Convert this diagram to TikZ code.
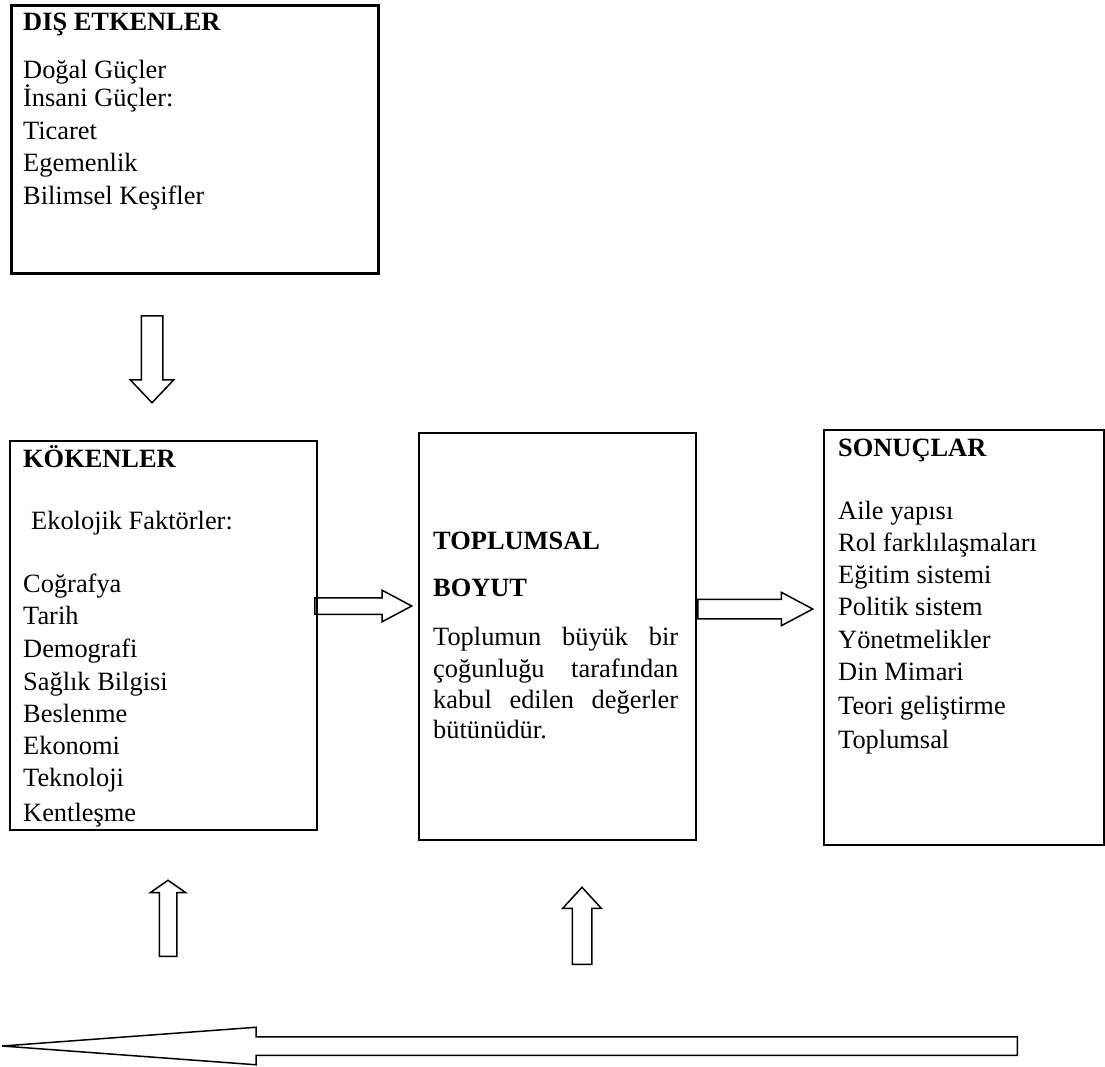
\documentclass[tikz,border=0pt]{standalone}
\usepackage{fontspec}
\setmainfont{Liberation Serif}
\usetikzlibrary{shapes.arrows}

\begin{document}
\begin{tikzpicture} [x=1pt, y=-1pt,
	box/.style={draw, line width=2pt, inner sep=0pt, anchor=north west},
	item/.style={anchor=base west, inner sep=0pt, font=\fontsize{26.4}{32}\selectfont},
	head/.style={item, font=\fontsize{26.4}{32}\selectfont\bfseries},
	fat/.style={single arrow, draw, line width=1.5pt, inner xsep=0pt, minimum width=0pt, anchor=tail}]
	%    page size of the reference
	\useasboundingbox (0,0) rectangle (1105,1066);

	% the four boxes
	\node[box, line width=3pt, minimum width=367pt, minimum height=268pt] (dis) at (9.5,4) {};
	\node[box, minimum width=307pt, minimum height=389pt] (koken) at (9,440) {};
	\node[box, minimum width=277pt, minimum height=407pt] (boyut) at (418,432) {};
	\node[box, minimum width=280pt, minimum height=415pt] (sonuc) at (823,429) {};

	% texts
	\node[head] (dishead) at (23,30) {DIŞ ETKENLER};
	\foreach \txt/\yy [count=\i] in {Doğal Güçler/78, İnsani Güçler:/106, Ticaret/139, Egemenlik/171, Bilimsel Keşifler/204}
		\node[item] (dis\i) at (23,\yy) {\txt};

	\node[head] (kokhead) at (23,467) {KÖKENLER};
	\node[item] (ekoloji) at (31,529) {Ekolojik Faktörler:};
	\foreach \txt/\yy [count=\i] in {Coğrafya/592, Tarih/624, Demografi/657, Sağlık Bilgisi/690, Beslenme/722, Ekonomi/754, Teknoloji/786, Kentleşme/821}
		\node[item] (kok\i) at (23,\yy) {\txt};

	\node[head] (boyhead1) at (433,549) {TOPLUMSAL};
	\node[head] (boyhead2) at (433,596) {BOYUT};
	\foreach \txt/\yy [count=\i] in {Toplumun büyük bir/645, çoğunluğu tarafından/677, kabul edilen değerler/708}
		\node[item] (boy\i) at (433,\yy) {\makebox[245pt][s]{\txt}};
	\node[item] (boy4) at (433,738) {bütünüdür.};

	\node[head] (sonhead) at (838,456) {SONUÇLAR};
	\foreach \txt/\yy [count=\i] in {Aile yapısı/519, Rol farklılaşmaları/551, Eğitim sistemi/583, Politik sistem/615, Yönetmelikler/648, Din Mimari/680, Teori geliştirme/714, Toplumsal/748}
		\node[item] (son\i) at (838,\yy) {\txt};

	% block arrows
	\node[fat, rotate=-90, minimum height=87pt, inner ysep=10pt, single arrow head extend=11pt, single arrow tip angle=87] (down) at (152,315) {};
	\node[fat, minimum height=97pt, inner ysep=7.5pt, single arrow head extend=7.5pt, single arrow tip angle=56] (right1) at (314,606) {};
	\node[fat, minimum height=115pt, inner ysep=9pt, single arrow head extend=7pt, single arrow tip angle=56] (right2) at (697,609) {};
	\node[fat, rotate=90, minimum height=76pt, inner ysep=8pt, single arrow head extend=9pt, single arrow tip angle=110] (up1) at (168,957) {};
	\node[fat, rotate=90, minimum height=77pt, inner ysep=9pt, single arrow head extend=9.5pt, single arrow tip angle=85] (up2) at (582,965) {};
	\node[fat, rotate=180, minimum height=1015pt, inner ysep=8.5pt, single arrow head extend=9.5pt, single arrow tip angle=8.45] (back) at (1018,1046) {};

\end{tikzpicture}
\end{document}
